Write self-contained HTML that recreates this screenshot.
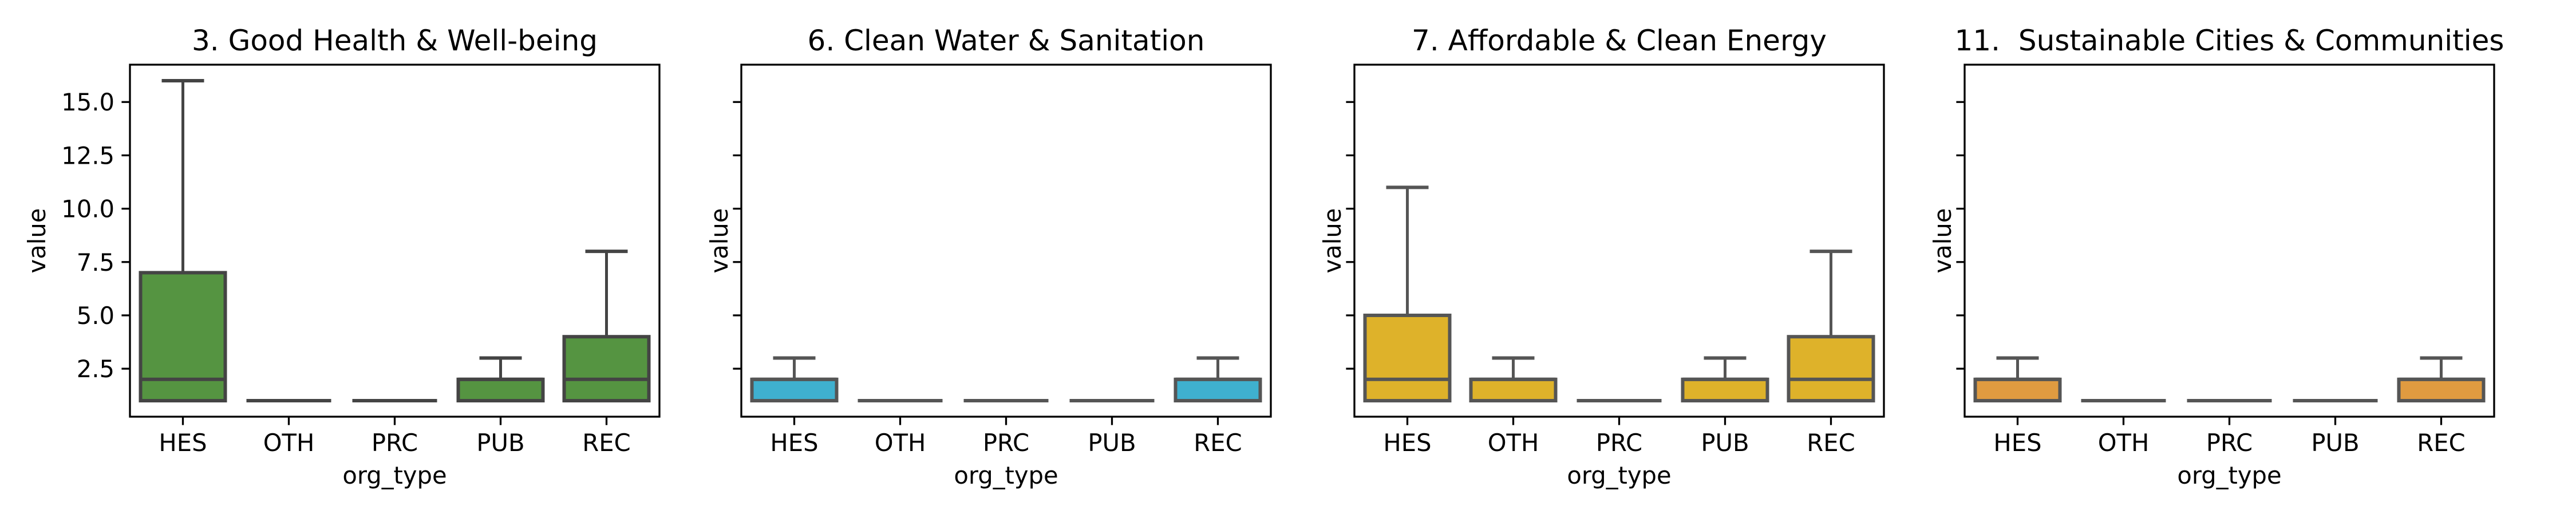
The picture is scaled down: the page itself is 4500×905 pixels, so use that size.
<!DOCTYPE html>
<html><head><meta charset="utf-8"><style>
html,body{margin:0;padding:0;background:#fff;}
svg text{font-family:"DejaVu Sans","Liberation Sans",sans-serif;fill:#000;white-space:pre;}
</style></head>
<body>
<svg id="chart" width="4500" height="900" viewBox="0 0 4500 900" xmlns="http://www.w3.org/2000/svg"></svg>
<script>
const categories = ["HES","OTH","PRC","PUB","REC"];
const panelTitles = ["3. Good Health & Well-being","6. Clean Water & Sanitation","7. Affordable & Clean Energy","11.  Sustainable Cities & Communities"];
const panelColors = ["#559441","#3fb0cf","#deb22a","#e09b40"];
const edgeColors = ["#444444","#555555","#555555","#555555"];
// [whisker low, q1, median, q3, whisker high]
const statsHealth = [[1,1,2,7,16],[1,1,1,1,1],[1,1,1,1,1],[1,1,2,2,3],[1,1,2,4,8]];
const statsWater  = [[1,1,2,2,3],[1,1,1,1,1],[1,1,1,1,1],[1,1,1,1,1],[1,1,2,2,3]];
const statsEnergy = [[1,1,2,5,11],[1,1,2,2,3],[1,1,1,1,1],[1,1,2,2,3],[1,1,2,4,8]];
const statsCities = [[1,1,2,2,3],[1,1,1,1,1],[1,1,1,1,1],[1,1,1,1,1],[1,1,2,2,3]];
const allStats = [statsHealth,statsWater,statsEnergy,statsCities];
const yTicks = [2.5,5.0,7.5,10.0,12.5,15.0];
const yTickLabels = ["2.5","5.0","7.5","10.0","12.5","15.0"];
const yMin = 0.25, yMax = 16.75;

const svg = document.getElementById('chart');
const NS = "http://www.w3.org/2000/svg";
function mk(tag, attrs, parent){const e=document.createElementNS(NS,tag);for(const k in attrs)e.setAttribute(k,attrs[k]);(parent||svg).appendChild(e);return e;}

const lefts=[227,1295,2366,3432], W=925, axTop=113, axBottom=728;
const yScale = v => axBottom - (v - yMin)/(yMax - yMin)*(axBottom-axTop);

allStats.forEach((stats,p)=>{
  const L=lefts[p];
  const xScale = i => L + (i+0.5)*W/categories.length;
  const bw = 0.8*W/categories.length;
  const g = mk('g',{});
  
  
  const t = mk('text',{x:L+W/2,y:88,'font-size':50,'text-anchor':'middle'},g);
  t.textContent = panelTitles[p];
  
  
  stats.forEach((s,i)=>{
    const cx=xScale(i), ec=edgeColors[p];
    const bg=mk('g',{},g);
    
    
    mk('line',{x1:cx,x2:cx,y1:yScale(s[3]),y2:yScale(s[4]),stroke:ec,'stroke-width':5},bg);
    mk('line',{x1:cx,x2:cx,y1:yScale(s[0]),y2:yScale(s[1]),stroke:ec,'stroke-width':5},bg);
    mk('line',{x1:cx-bw/4,x2:cx+bw/4,y1:yScale(s[4]),y2:yScale(s[4]),stroke:ec,'stroke-width':6},bg);
    mk('line',{x1:cx-bw/4,x2:cx+bw/4,y1:yScale(s[0]),y2:yScale(s[0]),stroke:ec,'stroke-width':6},bg);
    const h=Math.max(0,yScale(s[1])-yScale(s[3]));
    mk('rect',{x:cx-bw/2,y:yScale(s[3]),width:bw,height:h,fill:panelColors[p],stroke:ec,'stroke-width':6},bg);
    mk('line',{x1:cx-bw/2,x2:cx+bw/2,y1:yScale(s[2]),y2:yScale(s[2]),stroke:ec,'stroke-width':6},bg);
  });
  const fr=mk('rect',{x:L,y:axTop,width:W,height:axBottom-axTop,fill:'none',stroke:'#000','stroke-width':3.3},g);
  
  
  yTicks.forEach((v,k)=>{
    mk('line',{x1:L-14.6,x2:L,y1:yScale(v),y2:yScale(v),stroke:'#000','stroke-width':3.3},g);
    if(p===0){
      const tl=mk('text',{x:L-27,y:yScale(v)+15,'font-size':41.7,'text-anchor':'end'},g);
      tl.textContent=yTickLabels[k];
      
      
    }
  });
  categories.forEach((c,i)=>{
    const cx=xScale(i);
    mk('line',{x1:cx,x2:cx,y1:axBottom,y2:axBottom+14.6,stroke:'#000','stroke-width':3.3},g);
    const xl=mk('text',{x:cx,y:788,'font-size':41.7,'text-anchor':'middle'},g);
    xl.textContent=c;
    
    
  });
  const xt=mk('text',{x:L+W/2,y:845,'font-size':41.7,'text-anchor':'middle'},g);
  xt.textContent='org_type';
  
  
  const yx = p===0 ? L-148 : L-24;
  const ym = (axTop+axBottom)/2;
  const yt=mk('text',{x:yx,y:ym,'font-size':41.7,'text-anchor':'middle',transform:`rotate(-90 ${yx} ${ym})`},g);
  yt.textContent='value';
  
  
});
</script>
</body></html>
